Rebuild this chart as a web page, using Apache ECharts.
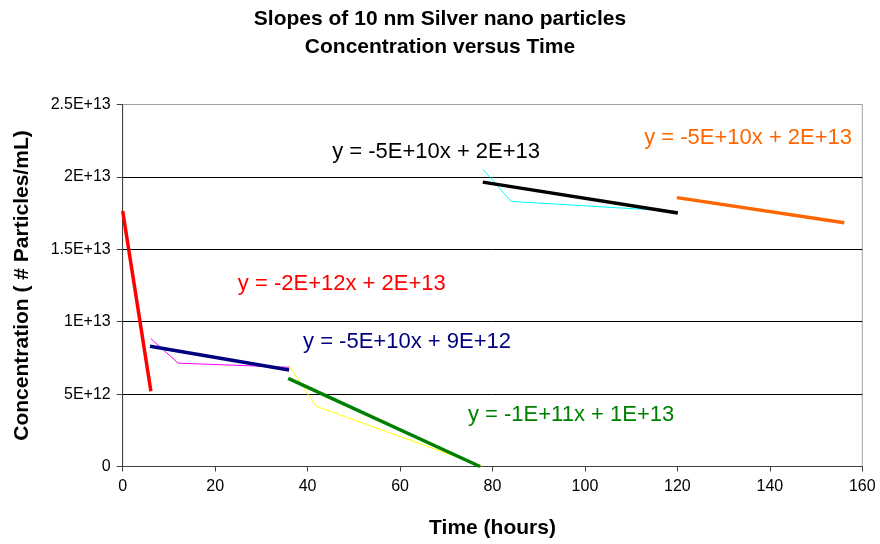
<!DOCTYPE html>
<html>
<head>
<meta charset="utf-8">
<script src="https://cdn.jsdelivr.net/npm/echarts@6/dist/echarts.min.js"></script>
<style>html,body{margin:0;padding:0;background:#fff}#chart{width:880px;height:544px}</style>
</head>
<body>
<div id="chart"></div>
<script>
// Measured data (x: hours, y: particles/mL)
var magentaData = [[6.06, 8.84e12], [12.0, 7.14e12], [36.0, 6.85e12]];
var yellowData  = [[35.9, 7.0e12], [41.8, 4.17e12], [77.7, 0.03e12]];
var cyanData    = [[78.0, 2.05e13], [84.0, 1.831e13], [119.9, 1.762e13]];
var redTrend    = [[0, 1.764e13], [6.1, 5.2e12]];
var navyTrend   = [[5.9, 8.31e12], [36.0, 6.66e12]];
var greenTrend  = [[35.8, 6.08e12], [77.3, 0]];
var blackTrend  = [[77.9, 1.964e13], [120.1, 1.75e13]];
var orangeTrend = [[119.9, 1.857e13], [156.1, 1.684e13]];

var xTicks = [0, 20, 40, 60, 80, 100, 120, 140, 160];
var yTickLabels = ['0', '5E+12', '1E+13', '1.5E+13', '2E+13', '2.5E+13'];

var eqLabels = [
  {text: 'y = -5E+10x + 2E+13', color: '#000000', pos: [67.8, 2.17e13]},
  {text: 'y = -5E+10x + 2E+13', color: '#ff6600', pos: [135.3, 2.266e13]},
  {text: 'y = -2E+12x + 2E+13', color: '#ff0000', pos: [47.4, 1.259e13]},
  {text: 'y = -5E+10x + 9E+12', color: '#000080', pos: [61.5, 8.59e12]},
  {text: 'y = -1E+11x + 1E+13', color: '#008000', pos: [97.0, 3.55e12]}
];

var FONT = 'Liberation Sans, Arial, sans-serif';
var chart = echarts.init(document.getElementById('chart'), null, {renderer: 'canvas'});

function line(name, data, color, width) {
  return {
    name: name, type: 'line', data: data, showSymbol: false, symbol: 'none',
    lineStyle: {color: color, width: width}, animation: false, silent: true
  };
}

var series = [
  line('magenta', magentaData, '#ff00ff', 1),
  line('yellow', yellowData, '#ffff00', 1),
  line('cyan', cyanData, '#00ffff', 1),
  line('red', redTrend, '#ff0000', 3.5),
  line('navy', navyTrend, '#000080', 3.5),
  line('green', greenTrend, '#008000', 3.5),
  line('black', blackTrend, '#000000', 3.5),
  line('orange', orangeTrend, '#ff6600', 3.5)
];

chart.setOption({
  backgroundColor: '#ffffff',
  animation: false,
  title: {
    text: 'Slopes of 10 nm Silver nano particles\nConcentration versus Time',
    left: 'center', top: 0,
    textStyle: {fontSize: 21, fontWeight: 'bold', fontFamily: FONT, color: '#000', lineHeight: 28}
  },
  grid: {left: 122.7, right: 17.7, top: 104.5, bottom: 77.5, show: true,
         borderColor: '#a0a0a0', borderWidth: 1, backgroundColor: 'transparent'},
  xAxis: {
    type: 'value', min: xTicks[0], max: xTicks[xTicks.length - 1], interval: 20,
    name: 'Time (hours)', nameLocation: 'middle', nameGap: 51,
    nameTextStyle: {fontSize: 21, fontWeight: 'bold', fontFamily: FONT, color: '#000'},
    axisLine: {lineStyle: {color: '#404040', width: 1}},
    axisTick: {show: true, length: 5, inside: false, lineStyle: {color: '#404040'}},
    axisLabel: {fontSize: 16, fontFamily: FONT, color: '#000', margin: 12},
    splitLine: {show: false}
  },
  yAxis: {
    type: 'value', min: 0, max: 2.5e13, interval: 5e12,
    name: 'Concentration ( # Particles/mL)', nameLocation: 'middle', nameGap: 90,
    nameTextStyle: {fontSize: 21, fontWeight: 'bold', fontFamily: FONT, color: '#000'},
    axisLine: {show: true, lineStyle: {color: '#404040', width: 1}},
    axisTick: {show: true, length: 6, inside: false, lineStyle: {color: '#404040'}},
    axisLabel: {fontSize: 16, fontFamily: FONT, color: '#000', margin: 12,
      formatter: function (v) { return yTickLabels[Math.round(v / 5e12)]; }},
    splitLine: {show: true, lineStyle: {color: ['#000000', '#000000', '#000000', '#000000', '#000000', '#a0a0a0'], width: 1}}
  },
  series: series
});

// Equation annotations placed at data coordinates through the axis scales
chart.setOption({
  graphic: eqLabels.map(function (d) {
    var p = chart.convertToPixel({gridIndex: 0}, d.pos);
    return {
      type: 'text', x: p[0], y: p[1], silent: true,
      style: {text: d.text, fill: d.color, font: '22px ' + FONT,
              textAlign: 'center', textVerticalAlign: 'middle'}
    };
  })
});
</script>
</body>
</html>
